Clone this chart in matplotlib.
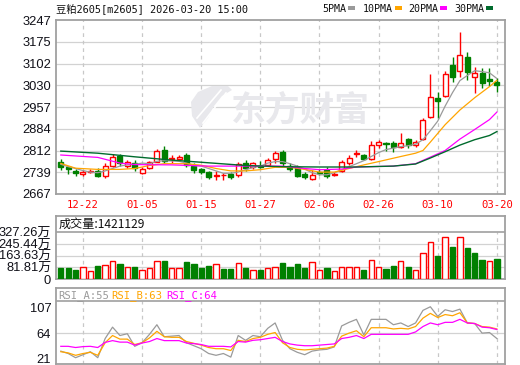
import matplotlib
matplotlib.use("Agg")
import matplotlib.pyplot as plt
import matplotlib.transforms as mtransforms
from matplotlib.patches import Rectangle, Polygon
from matplotlib.lines import Line2D

# 豆粕2605 日K，读图估计
opens = [2773, 2758, 2745, 2735, 2740, 2744, 2728, 2761, 2794, 2761,
         2770, 2738, 2753, 2775, 2814, 2784, 2783, 2797, 2761, 2750,
         2739, 2728, 2731, 2735, 2730, 2772, 2756, 2762, 2764, 2785,
         2808, 2762, 2756, 2733, 2716, 2741, 2747, 2730, 2745, 2771,
         2801, 2797, 2783, 2829, 2837, 2836, 2825, 2850, 2830, 2850,
         2925, 2988, 2994, 3097, 3078, 3125, 3058, 3071, 3050, 3042]
highs = [2784, 2761, 2750, 2748, 2750, 2753, 2769, 2800, 2800, 2781,
         2780, 2757, 2777, 2817, 2828, 2797, 2797, 2805, 2770, 2755,
         2745, 2745, 2737, 2742, 2774, 2780, 2774, 2777, 2787, 2812,
         2813, 2770, 2763, 2740, 2747, 2750, 2756, 2740, 2780, 2797,
         2814, 2800, 2844, 2846, 2842, 2845, 2869, 2855, 2847, 2922,
         3066, 3007, 3078, 3125, 3206, 3141, 3091, 3086, 3086, 3055]
lows = [2747, 2734, 2728, 2728, 2737, 2725, 2719, 2756, 2760, 2753,
        2745, 2734, 2750, 2773, 2772, 2772, 2778, 2756, 2738, 2735,
        2717, 2714, 2714, 2716, 2725, 2745, 2750, 2755, 2760, 2772,
        2762, 2743, 2723, 2717, 2714, 2730, 2722, 2727, 2740, 2764,
        2789, 2780, 2780, 2820, 2811, 2808, 2820, 2820, 2825, 2846,
        2922, 2921, 2991, 3041, 3056, 3048, 3003, 3020, 3027, 3008]
closes = [2756, 2749, 2736, 2740, 2743, 2727, 2761, 2789, 2771, 2775,
          2753, 2752, 2773, 2810, 2778, 2787, 2792, 2764, 2747, 2741,
          2725, 2731, 2732, 2723, 2766, 2753, 2769, 2757, 2780, 2803,
          2769, 2752, 2727, 2723, 2731, 2737, 2728, 2735, 2775, 2788,
          2805, 2783, 2830, 2840, 2835, 2825, 2838, 2830, 2842, 2914,
          2992, 2976, 3067, 3056, 3130, 3073, 3069, 3038, 3044, 3031]

ma5 = [2766, 2758, 2752, 2745, 2740, 2738, 2744, 2752, 2760, 2764,
       2766, 2770, 2768, 2776, 2778, 2777, 2776, 2770, 2762, 2760,
       2752, 2744, 2736, 2736, 2740, 2748, 2755, 2760, 2770, 2775,
       2775, 2768, 2760, 2750, 2738, 2731, 2731, 2738, 2747, 2758,
       2768, 2778, 2792, 2805, 2815, 2820, 2825, 2828, 2833, 2848,
       2878, 2910, 2960, 3005, 3045, 3062, 3078, 3075, 3071, 3052]
ma10_x = [0, 2, 5, 8, 10, 12, 14, 17, 19, 21, 23, 25, 27, 29, 31, 33, 35,
          37, 39, 41, 43, 46, 48, 49, 50, 52, 54, 56, 58, 59]
ma10_v = [2769, 2753, 2749, 2749, 2752, 2762, 2768, 2768, 2763, 2752, 2744,
          2744, 2748, 2756, 2756, 2749, 2740, 2740, 2752, 2764, 2775, 2792,
          2803, 2812, 2840, 2898, 2947, 2988, 3025, 3046]
ma20_x = [0, 5, 8, 10, 15, 20, 25, 30, 33, 35, 38, 40, 45, 48, 50, 52, 54,
          56, 58, 59]
ma20_v = [2797, 2789, 2770, 2765, 2764, 2760, 2760, 2760, 2752, 2748, 2750,
          2757, 2760, 2768, 2790, 2812, 2850, 2882, 2915, 2940]
ma30_x = [0, 5, 10, 15, 20, 25, 30, 35, 40, 45, 48, 50, 52, 54, 56, 58, 59]
ma30_v = [2810, 2803, 2791, 2780, 2771, 2762, 2758, 2757, 2757, 2760, 2767,
          2787, 2808, 2830, 2848, 2862, 2875]

# 成交量（万手）
volumes = [75, 75, 63, 82, 56, 91, 98, 126, 105, 82,
           84, 63, 75, 126, 126, 75, 75, 119, 105, 77,
           91, 103, 70, 70, 110, 77, 63, 63, 75, 86,
           112, 82, 103, 77, 117, 63, 75, 54, 86, 86,
           82, 63, 131, 82, 70, 91, 124, 84, 61, 180,
           257, 161, 292, 224, 292, 217, 184, 133, 124, 142.1]
vol_up = [0, 0, 0, 1, 1, 0, 1, 1, 0, 1,
          0, 1, 1, 1, 0, 1, 1, 0, 0, 0,
          0, 1, 0, 0, 1, 0, 1, 0, 1, 1,
          0, 0, 0, 0, 1, 1, 0, 1, 1, 1,
          1, 0, 1, 1, 0, 0, 1, 0, 1, 1,
          1, 0, 1, 0, 1, 0, 0, 0, 1, 0]

rsi_a = [34, 30, 23, 28, 33, 23, 55, 74, 60, 63,
         42, 48, 62, 78, 58, 59, 60, 48, 43, 38,
         30, 27, 30, 24, 60, 52, 60, 58, 72, 81,
         52, 38, 32, 28, 34, 36, 37, 41, 76, 82,
         87, 61, 87, 87, 87, 78, 81, 75, 81, 102,
         108, 92, 103, 100, 104, 81, 80, 64, 65, 55]
rsi_b = [33, 31, 27, 30, 32, 27, 48, 60, 54, 54,
         45, 48, 56, 67, 58, 57, 57, 50, 47, 44,
         40, 38, 38, 35, 52, 50, 55, 57, 62, 65,
         48, 40, 37, 36, 37, 38, 39, 42, 59, 64,
         68, 58, 73, 73, 73, 71, 72, 71, 75, 89,
         97, 90, 95, 93, 98, 81, 80, 75, 74, 71]
rsi_c = [42, 42, 40, 41.5, 42, 40, 48.5, 51.5, 49, 49,
         44, 47.5, 50, 55, 51.5, 51.5, 51.5, 47.5, 46.5, 45,
         42, 42, 42, 41, 50, 49, 52, 53, 55, 57,
         50, 46, 44, 43, 43, 44, 45, 46, 55, 57,
         60, 55, 62, 62, 62, 62, 62, 62, 66, 75,
         81, 78, 82, 82, 87, 81, 80, 74, 73, 70]

date_idx = [3, 11, 19, 27, 35, 43, 51, 59]
date_lbl = ["12-22", "01-05", "01-15", "01-27", "02-06", "02-26", "03-10", "03-20"]
price_ticks = [2667, 2739.5, 2812, 2884.5, 2957, 3029.5, 3102, 3174.5, 3247]
price_lbls = ["2667", "2739", "2812", "2884", "2957", "3030", "3102", "3175", "3247"]
vol_ticks = [0, 81.81, 163.63, 245.44, 327.26]
vol_lbls = ["0", "81.81万", "163.63万", "245.44万", "327.26万"]
rsi_ticks = [21, 64, 107]

W, H = 520, 365
UP, DOWN = "#FF0000", "#008000"
BORDER, GRID = "#A0A0A0", "#D2D2D2"
MONO = ["DejaVu Sans Mono", "Noto Sans CJK SC"]
SANS = ["Liberation Sans", "Noto Sans CJK SC"]


def fbox(l, t, r, b):
    return [l / W, 1 - b / H, (r - l) / W, (b - t) / H]


def fp(px, py):
    return (px / W, 1 - py / H)


fig = plt.figure(figsize=(W / 100, H / 100), dpi=100)
ax = fig.add_axes(fbox(56, 20, 505, 194))
axv = fig.add_axes(fbox(56, 216, 505, 279))
axr = fig.add_axes(fbox(56, 288, 505, 364))

n = len(closes)
for a in (ax, axv, axr):
    a.set_xlim(-0.65, n + 0.1)
    a.set_xticks([])
    for s in a.spines.values():
        s.set_color(BORDER)
        s.set_linewidth(1.3)
    a.tick_params(axis="y", length=0, pad=3.5, labelsize=9.3, labelcolor="#101018")

# 主图
ax.set_ylim(price_ticks[0], price_ticks[-1])
ax.set_yticks(price_ticks)
ax.set_yticklabels(price_lbls, fontfamily=SANS)
for t in price_ticks[1:-1]:
    ax.axhline(t, color=GRID, lw=0.9, zorder=0.5)
for i in date_idx:
    ax.axvline(i, color="#C8C8C8", lw=0.9, ls=(0, (3, 3)), zorder=0.5)

# 水印
ax.text(0.545, 0.48, "东方财富", transform=ax.transAxes, ha="center", va="center",
        fontsize=25, fontweight="bold", color="#E8E8EC", family="Noto Sans CJK SC", zorder=0.6)
logo = [(200, 128), (192, 116), (191, 102), (198, 92), (212, 86), (228, 86),
        (232, 90), (222, 96), (214, 106), (208, 118)]
fig.patches.append(Polygon([fp(px, py) for px, py in logo], closed=True,
                           facecolor="#E8E8EC", edgecolor="none",
                           transform=fig.transFigure, zorder=0.6))
for (x0, y0), (x1, y1) in [((197, 118), (221, 90)), ((203, 123), (226, 93))]:
    fig.lines.append(Line2D([x0 / W, x1 / W], [1 - y0 / H, 1 - y1 / H], color="white",
                            lw=1.2, transform=fig.transFigure, zorder=0.7))

bw = 0.68
for i in range(n):
    o, h, l, c = opens[i], highs[i], lows[i], closes[i]
    up = c >= o
    col = UP if up else DOWN
    lo, hi = min(o, c), max(o, c)
    ax.vlines(i, hi, h, color=col, lw=1.0, zorder=3)
    ax.vlines(i, l, lo, color=col, lw=1.0, zorder=3)
    ax.add_patch(Rectangle((i - bw / 2, lo), bw, max(hi - lo, 0.6),
                           facecolor="white" if up else col, edgecolor=col,
                           lw=1.0, zorder=4))

ax.plot(range(n), ma5, color="#9A9A9A", lw=0.9, zorder=5)
ax.plot(ma10_x, ma10_v, color="#FFA500", lw=0.9, zorder=5)
ax.plot(ma20_x, ma20_v, color="#FF00FF", lw=0.9, zorder=5)
ax.plot(ma30_x, ma30_v, color="#006B2D", lw=1.0, zorder=5)

blend = mtransforms.blended_transform_factory(ax.transData, ax.transAxes)
for i, lbl in zip(date_idx, date_lbl):
    ax.text(i, -0.063, lbl, transform=blend, ha="center", va="center",
            color="red", fontsize=7.6, family=MONO, clip_on=False)

fig.text(56 / W, 1 - 8.5 / H, "豆粕2605[m2605] 2026-03-20 15:00", ha="left", va="center",
         fontsize=7.4, family=MONO, color="#101010")

legend = [("5PMA", 322, "#9A9A9A"), ("10PMA", 363, "#FFA500"),
          ("20PMA", 408, "#FF00FF"), ("30PMA", 454, "#006B2D")]
for name, px, col in legend:
    fig.text(px / W, 1 - 8.5 / H, name, ha="left", va="center",
             fontsize=7.2, family=MONO, color="#101010")
    sx = px + len(name) * 5.95 + 2
    fig.patches.append(Rectangle((sx / W, 1 - 10 / H), 7 / W, 3.5 / H,
                                 facecolor=col, edgecolor="none",
                                 transform=fig.transFigure))

# 成交量
axv.set_ylim(0, 441.5)
axv.set_yticks(vol_ticks)
axv.set_yticklabels(vol_lbls, fontfamily=SANS)
for t in vol_ticks[1:-1]:
    axv.axhline(t, color=GRID, lw=0.9, zorder=0.5)
axv.axhline(vol_ticks[-1], color=BORDER, lw=1.2, zorder=1)
axv.vlines(date_idx, 0, vol_ticks[-1], color="#C8C8C8", lw=0.9, ls=(0, (3, 3)), zorder=0.5)
for i in range(n):
    col = UP if vol_up[i] else DOWN
    axv.add_patch(Rectangle((i - 0.36, 0), 0.72, volumes[i],
                            facecolor="white" if vol_up[i] else col,
                            edgecolor=col, lw=1.0, zorder=3))
axv.text(0.005, 0.87, "成交量:1421129", transform=axv.transAxes, ha="left", va="center",
         fontsize=8.7, family="Noto Sans CJK SC", color="#101010")

# RSI
axr.set_ylim(12.5, 139.3)
axr.set_yticks(rsi_ticks)
axr.set_yticklabels([str(v) for v in rsi_ticks], fontfamily=SANS)
axr.axhline(64, color=GRID, lw=0.9, zorder=0.5)
axr.axhline(118, color=BORDER, lw=1.2, zorder=1)
axr.vlines(date_idx, 12.5, 118, color="#C8C8C8", lw=0.9, ls=(0, (3, 3)), zorder=0.5)
axr.plot(range(n), rsi_a, color="#9A9A9A", lw=0.9, zorder=3)
axr.plot(range(n), rsi_b, color="#FFA500", lw=0.9, zorder=3)
axr.plot(range(n), rsi_c, color="#FF00FF", lw=0.9, zorder=3)
for lbl, px, col in [("RSI_A:55", 58, "#9A9A9A"), ("RSI_B:63", 111.5, "#FFA500"),
                     ("RSI_C:64", 166, "#FF00FF")]:
    axr.text((px - 56) / 449, 0.905, lbl, transform=axr.transAxes, ha="left", va="center",
             fontsize=7.6, family=MONO, color=col)

fig.savefig("out.png", dpi=100)
